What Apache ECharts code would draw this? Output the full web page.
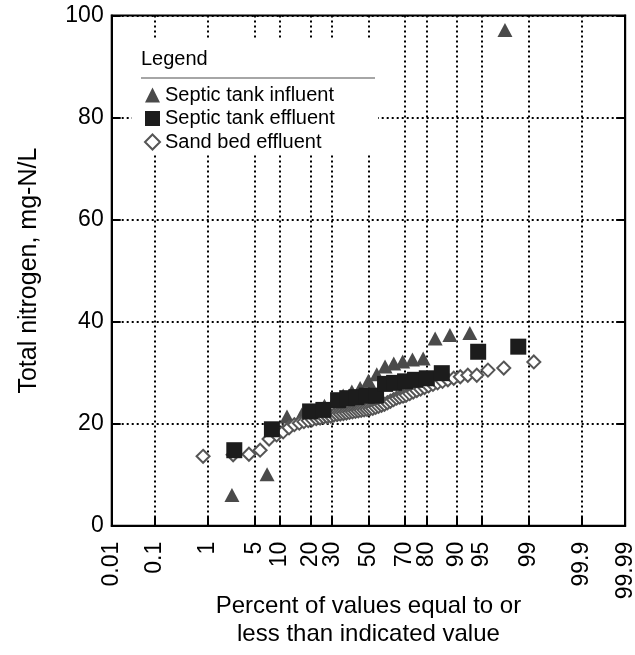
<!DOCTYPE html>
<html>
<head>
<meta charset="utf-8">
<script src="https://cdn.jsdelivr.net/npm/echarts@6/dist/echarts.min.js"></script>
<style>html,body{margin:0;padding:0;background:#fff}#c{width:635px;height:655px}</style>
</head>
<body>
<div id="c"></div>
<script>
// ---- data (percent of values <= indicated value, total nitrogen mg-N/L) ----
const tickPercents = [0.1, 1, 5, 10, 20, 30, 50, 70, 80, 90, 95, 99, 99.9];
const labelPercents = [0.01, 0.1, 1, 5, 10, 20, 30, 50, 70, 80, 90, 95, 99, 99.9, 99.99];
const labelTexts = ['0.01', '0.1', '1', '5', '10', '20', '30', '50', '70', '80', '90', '95', '99', '99.9', '99.99'];
const yTicks = [0, 20, 40, 60, 80, 100];

const influentPct = [2.4, 7.1, 11.9, 16.7, 21.4, 26.2, 31.0, 35.7, 40.5, 45.2, 50.0, 54.8, 59.5, 64.3, 69.0, 73.8, 78.6, 83.3, 88.1, 92.9, 97.6];
const influentVal = [6.0, 10.1, 21.4, 21.8, 22.5, 23.5, 24.5, 25.5, 26.3, 27.0, 28.4, 29.7, 31.2, 31.8, 32.2, 32.6, 32.8, 36.7, 37.4, 37.8, 97.2];

const effluentPct = [2.6, 8.1, 19.9, 25.7, 33.0, 37.9, 43.0, 49.0, 54.4, 59.5, 64.5, 70.2, 75.0, 80.1, 85.6, 94.4, 98.5];
const effluentVal = [14.8, 18.9, 22.4, 22.7, 24.6, 25.0, 25.2, 25.5, 25.5, 27.8, 28.0, 28.3, 28.6, 28.9, 29.9, 34.1, 35.1];

const sandPct = [0.83, 2.5, 4.17, 5.83, 7.5, 9.17, 10.83, 12.5, 14.17, 15.83, 17.5, 19.17, 20.83, 22.5, 24.17, 25.83, 27.5, 29.17, 30.83, 32.5,
  34.17, 35.83, 37.5, 39.17, 40.83, 42.5, 44.17, 45.83, 47.5, 49.17, 50.83, 52.5, 54.17, 55.83, 57.5, 59.17, 60.83, 62.5, 64.17, 65.83,
  67.5, 69.17, 70.83, 72.5, 74.17, 75.83, 77.5, 79.17, 80.83, 82.5, 84.17, 85.83, 87.5, 89.17, 90.83, 92.5, 94.17, 95.83, 97.5, 99.17];
const sandVal = [13.6, 13.9, 14.0, 14.8, 17.0, 17.8, 18.4, 19.2, 19.8, 20.1, 20.4, 20.6, 20.8, 21.0, 21.1, 21.3, 21.4, 21.5, 21.7, 21.8,
  21.9, 22.0, 22.1, 22.2, 22.3, 22.4, 22.5, 22.6, 22.7, 22.8, 22.9, 23.0, 23.2, 23.4, 23.6, 23.8, 24.1, 24.4, 24.7, 25.0,
  25.2, 25.4, 25.6, 25.9, 26.2, 26.5, 26.8, 27.1, 27.4, 27.7, 28.0, 28.3, 28.6, 28.9, 29.2, 29.5, 29.5, 30.5, 30.9, 32.1];

// normal probability transform (inverse standard normal CDF)
function probit(p) {
  const a=[-3.969683028665376e+01,2.209460984245205e+02,-2.759285104469687e+02,1.383577518672690e+02,-3.066479806614716e+01,2.506628277459239e+00];
  const b=[-5.447609879822406e+01,1.615858368580409e+02,-1.556989798598866e+02,6.680131188771972e+01,-1.328068155288572e+01];
  const c=[-7.784894002430293e-03,-3.223964580411365e-01,-2.400758277161838e+00,-2.549671348589269e+00,4.374664141464968e+00,2.938163982698783e+00];
  const d=[7.784695709041462e-03,3.224671290700398e-01,2.445134137142996e+00,3.754408661907416e+00];
  const pl=0.02425, ph=1-pl; let q, r;
  if (p < pl) { q=Math.sqrt(-2*Math.log(p)); return (((((c[0]*q+c[1])*q+c[2])*q+c[3])*q+c[4])*q+c[5])/((((d[0]*q+d[1])*q+d[2])*q+d[3])*q+1); }
  if (p <= ph) { q=p-0.5; r=q*q; return (((((a[0]*r+a[1])*r+a[2])*r+a[3])*r+a[4])*r+a[5])*q/(((((b[0]*r+b[1])*r+b[2])*r+b[3])*r+b[4])*r+1); }
  q=Math.sqrt(-2*Math.log(1-p)); return -(((((c[0]*q+c[1])*q+c[2])*q+c[3])*q+c[4])*q+c[5])/((((d[0]*q+d[1])*q+d[2])*q+d[3])*q+1);
}
const z = pct => probit(pct / 100);
const pairs = (pcts, vals) => pcts.map((p, i) => [z(p), vals[i]]);

const FONT = '"Liberation Sans", Arial, Helvetica, sans-serif';
const xMin = z(labelPercents[0]), xMax = z(labelPercents[labelPercents.length - 1]);
const labelZ = labelPercents.map(z);
const dotted = { color: '#000', width: 2, type: [2, 3] };

const chart = echarts.init(document.getElementById('c'), null, { renderer: 'canvas' });
chart.setOption({
  animation: false,
  backgroundColor: '#fff',
  textStyle: { fontFamily: FONT },
  grid: { left: 111.7, right: 9.8, top: 15.6, bottom: 129.3, containLabel: false, outerBoundsMode: 'none',
    show: true, borderColor: '#000', borderWidth: 2, backgroundColor: 'transparent' },
  xAxis: [{
    type: 'value', min: xMin, max: xMax, position: 'bottom',
    axisLine: { show: true, onZero: false, lineStyle: { color: '#000', width: 2 } },
    axisTick: { show: true, inside: true, length: 9, lineStyle: { color: '#000', width: 2 }, customValues: tickPercents.map(z) },
    splitLine: { show: true, lineStyle: dotted },
    axisLabel: {
      customValues: labelZ, rotate: 90, margin: 16, fontSize: 23, color: '#000', fontFamily: FONT,
      formatter: v => { let bi = 0, bd = 1e9; labelZ.forEach((lz, i) => { const d = Math.abs(lz - v); if (d < bd) { bd = d; bi = i; } }); return labelTexts[bi]; }
    },
    name: 'Percent of values equal to or\nless than indicated value',
    nameLocation: 'middle', nameGap: 67, nameMoveOverlap: false,
    nameTextStyle: { fontSize: 24, color: '#000', lineHeight: 28, fontFamily: FONT }
  }],
  yAxis: [{
    type: 'value', min: yTicks[0], max: yTicks[yTicks.length - 1], interval: 20, position: 'left',
    axisLine: { show: true, onZero: false, lineStyle: { color: '#000', width: 2 } },
    axisTick: { show: true, inside: true, length: 9, lineStyle: { color: '#000', width: 2 } },
    splitLine: { show: true, lineStyle: dotted },
    axisLabel: { fontSize: 23, color: '#000', margin: 8, fontFamily: FONT },
    name: 'Total nitrogen, mg-N/L', nameLocation: 'middle', nameGap: 70, nameMoveOverlap: false,
    nameTextStyle: { fontSize: 25, color: '#000', fontFamily: FONT }
  }, {
    type: 'value', min: yTicks[0], max: yTicks[yTicks.length - 1], interval: 20, position: 'right',
    axisLine: { show: true, onZero: false, lineStyle: { color: '#000', width: 2 } },
    axisTick: { show: true, inside: true, length: 9, lineStyle: { color: '#000', width: 2 } },
    splitLine: { show: false }, axisLabel: { show: false }
  }],
  legend: {
    orient: 'vertical', left: 144, top: 85, padding: 0, itemGap: 3.5, itemWidth: 15, itemHeight: 15, z: 20,
    textStyle: { fontSize: 20, color: '#000', lineHeight: 20, fontFamily: FONT },
    data: [
      { name: 'Septic tank influent', icon: 'triangle' },
      { name: 'Septic tank effluent', icon: 'rect' },
      { name: 'Sand bed effluent', icon: 'diamond' }
    ]
  },
  graphic: [
    { type: 'rect', z: 10, shape: { x: 132, y: 40, width: 246, height: 115 }, style: { fill: '#fff' }, silent: true },
    { type: 'text', z: 11, x: 141, y: 59, style: { text: 'Legend', font: '20px ' + FONT, fill: '#000', verticalAlign: 'middle' } },
    { type: 'line', z: 11, shape: { x1: 141, y1: 78, x2: 375, y2: 78 }, style: { stroke: '#888', lineWidth: 1.5 } }
  ],
  series: [
    { name: 'Septic tank influent', type: 'scatter', symbol: 'triangle', symbolSize: [15, 14], z: 2,
      itemStyle: { color: '#4a4a4a', opacity: 1 }, data: pairs(influentPct, influentVal) },
    { name: 'Sand bed effluent', type: 'scatter', symbol: 'diamond', symbolSize: 13, z: 3,
      itemStyle: { color: '#fff', borderColor: '#555', borderWidth: 2, opacity: 1 }, data: pairs(sandPct, sandVal) },
    { name: 'Septic tank effluent', type: 'scatter', symbol: 'rect', symbolSize: 16, z: 4,
      itemStyle: { color: '#1c1c1c', opacity: 1 }, data: pairs(effluentPct, effluentVal) }
  ]
});
</script>
</body>
</html>
